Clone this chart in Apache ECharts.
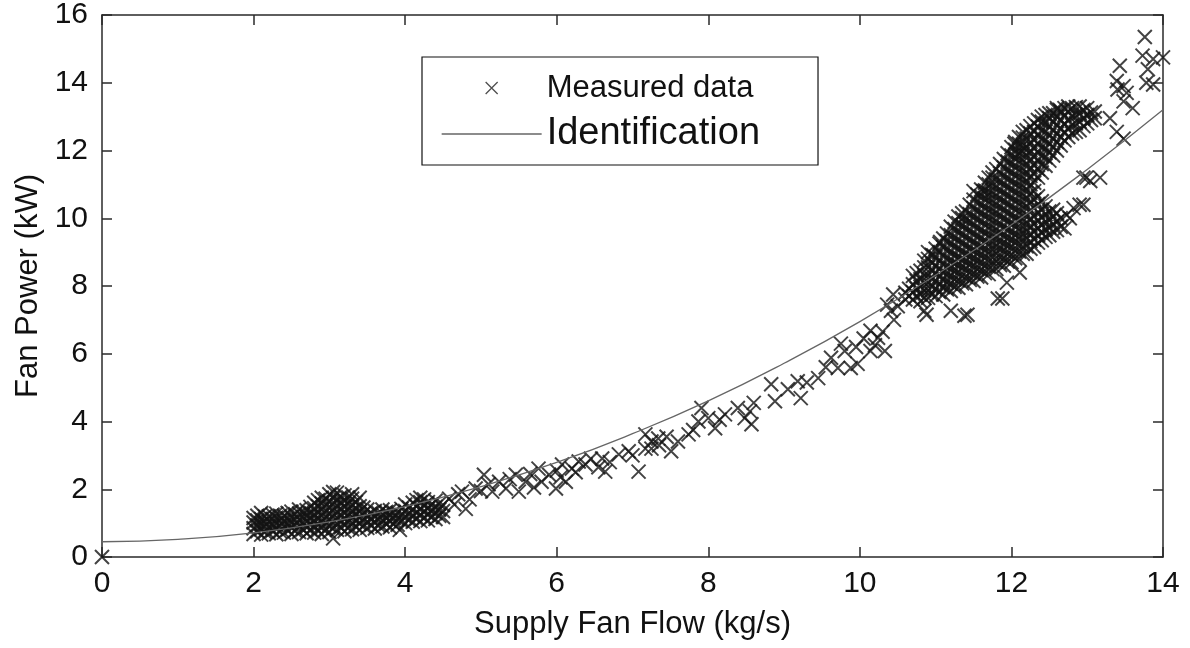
<!DOCTYPE html>
<html>
<head>
<meta charset="utf-8">
<script src="https://cdn.jsdelivr.net/npm/echarts@6/dist/echarts.min.js"></script>
<style>html,body{margin:0;padding:0;background:#fff}#c{width:1190px;height:648px}</style>
</head>
<body>
<div id="c"></div>
<script>
const xTitle = 'Supply Fan Flow (kg/s)';
const yTitle = 'Fan Power (kW)';
const legendNames = ['Measured data', 'Identification'];

// Identification curve
const identification = [[0,0.45],[1,0.52],[2,0.71],[3,1.04],[4,1.49],[5,2.08],[6,2.79],[7,3.64],[8,4.61],[9,5.72],[10,6.95],[11,8.32],[12,9.81],[13,11.44],[14,13.2]];

const originPoint = [[0, 0]];

// low-flow cluster: [x, [y values]]
const lowFlowColumns = [
  [2.0,[0.68,0.85,1.02,1.15]],
  [2.1,[0.66,0.82,0.98,1.12,1.3]],
  [2.2,[0.7,0.88,1.05,1.2]],
  [2.3,[0.67,0.84,1.0,1.16,1.28]],
  [2.4,[0.72,0.9,1.06,1.22]],
  [2.5,[0.68,0.86,1.02,1.18,1.34]],
  [2.6,[0.74,0.92,1.1,1.28,1.4]],
  [2.7,[0.7,0.88,1.05,1.22,1.38]],
  [2.8,[0.72,0.9,1.08,1.26,1.44,1.6]],
  [2.9,[0.68,0.86,1.04,1.22,1.4,1.58,1.75]],
  [3.0,[0.74,0.92,1.1,1.28,1.46,1.64,1.85]],
  [3.05,[0.55]],
  [3.1,[0.8,0.98,1.16,1.34,1.52,1.7,1.9]],
  [3.2,[0.76,0.94,1.12,1.3,1.48,1.66,1.82]],
  [3.3,[0.82,1.0,1.18,1.36,1.54,1.72,1.85]],
  [3.4,[0.8,0.98,1.16,1.34,1.5,1.75]],
  [3.5,[0.86,1.04,1.22,1.4]],
  [3.6,[0.84,1.02,1.2,1.36]],
  [3.7,[0.9,1.08,1.26,1.4]],
  [3.8,[0.88,1.06,1.24,1.38]],
  [3.9,[0.95,1.12,1.3]],
  [3.93,[0.8]],
  [4.0,[1.0,1.18,1.36,1.55]],
  [4.1,[1.04,1.22,1.4,1.6]],
  [4.2,[1.06,1.24,1.42,1.62,1.75]],
  [4.3,[1.08,1.26,1.44,1.62]],
  [4.4,[1.12,1.3,1.48,1.66]],
  [4.5,[1.18,1.36,1.54]]
];
const lowFlowColumnsB = [
  [2.05,[0.76,0.93,1.08,1.22]],
  [2.15,[0.74,0.9,1.05,1.2]],
  [2.25,[0.78,0.95,1.12,1.25]],
  [2.35,[0.75,0.92,1.08,1.22]],
  [2.45,[0.8,0.97,1.14,1.3]],
  [2.55,[0.77,0.94,1.1,1.26]],
  [2.65,[0.82,1.0,1.18,1.34]],
  [2.75,[0.8,0.97,1.14,1.3,1.48]],
  [2.85,[0.78,0.95,1.13,1.31,1.5,1.68]],
  [2.95,[0.82,1.0,1.18,1.36,1.54,1.72]],
  [3.05,[0.85,1.02,1.2,1.38,1.56,1.74,1.92]],
  [3.15,[0.88,1.06,1.24,1.42,1.6,1.78]],
  [3.25,[0.86,1.04,1.22,1.4,1.58,1.76]],
  [3.35,[0.9,1.08,1.26,1.44,1.62]],
  [3.45,[0.92,1.1,1.28,1.46]],
  [3.55,[0.94,1.12,1.3]],
  [3.65,[0.93,1.11,1.29]],
  [3.75,[0.98,1.16,1.33]],
  [3.85,[0.97,1.15,1.32]],
  [3.95,[1.06,1.24,1.42]],
  [4.05,[1.1,1.28,1.46]],
  [4.15,[1.13,1.31,1.5,1.68]],
  [4.25,[1.15,1.34,1.52,1.7]],
  [4.35,[1.18,1.36,1.55]],
  [4.45,[1.22,1.4,1.58]]
];

// sparse middle range: [x, y]
const midFlowPoints = [
  [4.58,1.72],[4.65,1.55],[4.7,1.85],[4.75,1.93],[4.8,1.42],[4.85,1.7],[4.93,2.02],[5.0,1.95],[5.04,2.43],[5.1,2.15],
  [5.15,1.93],[5.24,2.22],[5.33,2.02],[5.38,2.3],[5.46,2.43],[5.5,1.93],[5.59,2.22],[5.65,2.45],[5.7,2.05],[5.76,2.61],
  [5.8,2.22],[5.9,2.43],[5.99,2.02],[6.0,2.55],[6.05,2.35],[6.07,2.73],[6.12,2.22],[6.2,2.61],[6.25,2.5],[6.29,2.82],
  [6.38,2.73],[6.45,2.9],[6.55,2.65],[6.6,2.91],[6.64,2.52],[6.7,2.8],[6.82,3.03],[6.95,3.12],[7.0,3.0],[7.08,2.52],
  [7.17,3.2],[7.25,3.41],[7.17,3.62],[7.25,3.2],[7.34,3.5],[7.35,3.3],[7.45,3.55],[7.51,3.12],[7.6,3.41],[7.74,3.62],
  [7.8,3.75],[7.87,4.0],[7.91,4.4],[8.0,4.1],[8.09,3.8],[8.15,4.05],[8.22,4.21],[8.39,4.4],[8.48,4.1],[8.55,4.3],
  [8.57,3.92],[8.6,4.55],[8.83,5.1],[8.88,4.6],[9.05,4.95],[9.18,5.19],[9.22,4.69],[9.3,5.15],[9.45,5.28],[9.55,5.6],
  [9.62,5.88],[9.71,5.58],[9.75,6.3],[9.8,6.08],[9.88,5.58],[9.95,6.2],[9.97,5.7],[10.05,6.45],[10.14,6.68],[10.14,6.08],
  [10.2,6.25],[10.24,6.47],[10.3,6.65],[10.33,6.08],[10.36,7.45],[10.41,7.27],[10.44,7.75],[10.45,7.0],[10.5,7.4]
];

// high-flow cluster: [x, [y values]]
const highFlowColumns = [
  [10.6,[7.6,7.8]],
  [10.7,[7.6,7.82,8.05,8.3]],
  [10.8,[7.55,7.75,7.98,8.2,8.45]],
  [10.9,[7.65,7.87,8.1,8.32,8.55,8.8,9.0]],
  [11.0,[7.7,7.92,8.15,8.38,8.6,8.85,9.1]],
  [11.1,[7.75,7.97,8.2,8.42,8.65,8.9,9.15,9.4]],
  [11.2,[7.85,8.07,8.3,8.52,8.75,9.0,9.25,9.5,9.75]],
  [11.3,[7.95,8.17,8.4,8.62,8.85,9.1,9.35,9.6,9.85,10.05]],
  [11.4,[8.05,8.27,8.5,8.72,8.95,9.2,9.45,9.7,9.95,10.2]],
  [11.5,[8.15,8.37,8.6,8.82,9.05,9.3,9.55,9.8,10.05,10.3,10.55]],
  [11.6,[8.25,8.47,8.7,8.92,9.15,9.4,9.65,9.9,10.15,10.4,10.65,10.85]],
  [11.7,[8.35,8.57,8.8,9.02,9.25,9.5,9.75,10.0,10.25,10.5,10.75,11.0,11.2]],
  [11.8,[8.5,8.72,8.95,9.17,9.4,9.65,9.9,10.15,10.4,10.65,10.9,11.15,11.45]],
  [11.9,[8.6,8.82,9.05,9.27,9.5,9.75,10.0,10.25,10.5,10.75,11.0,11.25,11.5,11.75]],
  [12.0,[8.7,8.92,9.15,9.37,9.6,9.85,10.1,10.35,10.6,10.85,11.1,11.35,11.6,11.85,12.1]],
  [12.1,[8.8,9.02,9.25,9.47,9.7,9.95,10.2,10.45,10.7,10.95,11.2,11.45,11.7,11.95,12.2,12.4]],
  [12.2,[8.95,9.17,9.4,9.62,9.85,10.1,10.35,10.6,10.85,11.1,11.35,11.6,11.85,12.1,12.35,12.6]],
  [12.3,[9.15,9.37,9.6,9.82,10.05,10.3,10.55,10.8,11.05,11.3,11.55,11.8,12.05,12.3,12.55,12.8]],
  [12.4,[9.35,9.57,9.8,10.02,10.25,10.5,11.35,11.6,11.85,12.1,12.35,12.6,12.85,13.0]],
  [12.5,[9.5,9.72,9.95,10.2,11.7,11.95,12.2,12.45,12.7,12.95,13.1]],
  [12.6,[9.65,9.9,10.15,12.0,12.25,12.5,12.75,13.0,13.2]],
  [12.7,[9.7,12.3,12.55,12.8,13.05,13.25]],
  [12.8,[12.5,12.75,13.0,13.25]],
  [12.9,[12.6,12.85,13.1,13.3]],
  [13.0,[12.8,13.05,13.25]],
  [13.1,[12.95,13.15]]
];
const highFlowColumnsB = [
  [10.65,[7.7,7.92]],
  [10.75,[7.7,7.92,8.15,8.38]],
  [10.85,[7.65,7.87,8.1,8.32,8.55,8.75]],
  [10.95,[7.75,7.98,8.2,8.45,8.68,8.92]],
  [11.05,[7.82,8.05,8.28,8.5,8.75,9.0,9.25]],
  [11.15,[7.9,8.12,8.35,8.58,8.82,9.07,9.32,9.55]],
  [11.25,[7.98,8.2,8.45,8.68,8.92,9.17,9.42,9.68,9.9]],
  [11.35,[8.08,8.3,8.55,8.78,9.02,9.27,9.52,9.78,10.0,10.15]],
  [11.45,[8.18,8.4,8.65,8.88,9.12,9.37,9.62,9.88,10.12,10.4]],
  [11.55,[8.28,8.5,8.75,8.98,9.22,9.47,9.72,9.98,10.22,10.48,10.7]],
  [11.65,[8.38,8.6,8.85,9.08,9.32,9.57,9.82,10.08,10.32,10.58,10.82,11.05]],
  [11.75,[8.5,8.72,8.97,9.2,9.45,9.7,9.95,10.2,10.45,10.7,10.95,11.2,11.35]],
  [11.85,[8.62,8.85,9.1,9.32,9.57,9.82,10.07,10.32,10.57,10.82,11.07,11.32,11.6]],
  [11.95,[8.72,8.95,9.2,9.42,9.67,9.92,10.17,10.42,10.67,10.92,11.17,11.42,11.67,11.92]],
  [12.05,[8.82,9.05,9.3,9.52,9.77,10.02,10.27,10.52,10.77,11.02,11.27,11.52,11.77,12.02,12.25]],
  [12.15,[8.95,9.17,9.42,9.65,9.9,10.15,10.4,10.65,10.9,11.15,11.4,11.65,11.9,12.15,12.38,12.55]],
  [12.25,[9.1,9.32,9.55,9.78,10.0,10.25,10.5,10.75,11.0,11.25,11.5,11.75,12.0,12.25,12.5,12.72]],
  [12.35,[9.28,9.5,9.72,9.95,10.18,10.42,10.65,11.2,11.45,11.7,11.95,12.2,12.45,12.7,12.9]],
  [12.45,[9.45,9.67,9.9,10.12,10.35,11.55,11.8,12.05,12.3,12.55,12.8,13.05]],
  [12.55,[9.6,9.82,10.05,10.25,11.85,12.1,12.35,12.6,12.85,13.1]],
  [12.65,[9.75,10.0,12.15,12.4,12.65,12.9,13.15]],
  [12.75,[12.4,12.65,12.9,13.15,13.3]],
  [12.85,[12.55,12.8,13.05,13.28]],
  [12.95,[12.72,12.95,13.2]],
  [13.05,[12.9,13.12]]
];

// scattered points around the high-flow cluster: [x, y]
const highFlowOutliers = [
  [10.85,7.27],[10.88,7.15],[11.2,7.27],[11.38,7.12],[11.42,7.15],[11.82,7.63],[11.88,7.63],[11.94,8.1],[12.11,8.4],
  [10.97,8.9],[11.06,9.3],[11.5,10.8],[11.63,10.8],[12.04,12.2],[12.08,11.87],[12.17,12.05],[12.6,13.25],[12.64,13.2],
  [12.73,10.1],[12.77,10.0],[12.82,10.3],[12.95,10.4],[12.9,10.4],[12.95,11.2],[12.99,11.2],[13.04,11.1],[13.17,11.2],
  [13.3,12.95],[13.39,12.55],[13.48,12.35],[13.6,13.25],[13.48,13.45],[13.4,13.8],[13.52,13.7],[13.48,13.9],[13.39,14.05],
  [13.43,14.5],[13.78,14.0],[13.87,13.95],[13.8,14.4],[13.73,14.8],[13.87,14.7],[14.0,14.75],[13.76,15.35]
];

const flatten = cols => cols.flatMap(([x, ys]) => ys.map(y => [x, y]));
const measured = [].concat(
  originPoint,
  flatten(lowFlowColumns), flatten(lowFlowColumnsB),
  midFlowPoints,
  flatten(highFlowColumns), flatten(highFlowColumnsB),
  highFlowOutliers
);

const crossPath = 'path://M0,0L10,10M10,0L0,10';
const font = 'Liberation Sans, Arial, Helvetica, sans-serif';
const axisColor = '#2a2a2a';

function xAx(pos, show) {
  return {
    type: 'value', min: 0, max: 14, interval: 2, position: pos,
    axisLine: { show: true, onZero: false, lineStyle: { color: axisColor, width: 1.5 } },
    axisTick: { show: true, inside: true, length: 10, lineStyle: { color: axisColor, width: 1.5 } },
    axisLabel: { show: show, fontSize: 30, color: '#111', fontFamily: font, margin: 12 },
    splitLine: { show: false },
    name: show ? xTitle : '', nameLocation: 'middle', nameGap: 52,
    nameTextStyle: { fontSize: 31, color: '#111', fontFamily: font }
  };
}
function yAx(pos, show) {
  return {
    type: 'value', min: 0, max: 16, interval: 2, position: pos,
    axisLine: { show: true, onZero: false, lineStyle: { color: axisColor, width: 1.5 } },
    axisTick: { show: true, inside: true, length: 10, lineStyle: { color: axisColor, width: 1.5 } },
    axisLabel: { show: show, fontSize: 30, color: '#111', fontFamily: font, margin: 14 },
    splitLine: { show: false },
    name: show ? yTitle : '', nameLocation: 'middle', nameGap: 58, nameRotate: 90,
    nameTextStyle: { fontSize: 31, color: '#111', fontFamily: font }
  };
}

const chart = echarts.init(document.getElementById('c'));
chart.setOption({
  animation: false,
  backgroundColor: '#fff',
  grid: { left: 102, right: 27, top: 15, bottom: 91, containLabel: false },
  xAxis: [xAx('bottom', true), xAx('top', false)],
  yAxis: [yAx('left', true), yAx('right', false)],
  legend: {
    orient: 'vertical', left: 422, top: 57,
    padding: [13, 58, 12, 19],
    itemWidth: 100, itemHeight: 12, itemGap: 9,
    borderColor: '#111', borderWidth: 1.2, backgroundColor: '#fff',
    textStyle: { color: '#111', fontFamily: font },
    data: [
      { name: legendNames[0], icon: crossPath,
        itemStyle: { color: 'rgba(0,0,0,0)', borderColor: '#222', borderWidth: 1.3 },
        textStyle: { fontSize: 31, lineHeight: 36, color: '#111', fontFamily: font } },
      { name: legendNames[1],
        itemStyle: { color: 'rgba(0,0,0,0)', borderColor: 'rgba(0,0,0,0)', borderWidth: 0, opacity: 0 },
        lineStyle: { color: '#666', width: 1.3, opacity: 1 },
        textStyle: { fontSize: 38, lineHeight: 36, color: '#111', fontFamily: font } }
    ]
  },
  series: [
    {
      name: legendNames[0], type: 'scatter', data: measured,
      symbol: crossPath, symbolSize: 14,
      itemStyle: { color: 'rgba(0,0,0,0)', borderColor: '#141414', borderWidth: 2 },
      z: 2
    },
    {
      name: legendNames[1], type: 'line', data: identification, smooth: true,
      symbol: 'none', showSymbol: false,
      itemStyle: { color: '#666' },
      lineStyle: { color: '#666', width: 1.3 },
      z: 3
    }
  ]
});
</script>
</body>
</html>
